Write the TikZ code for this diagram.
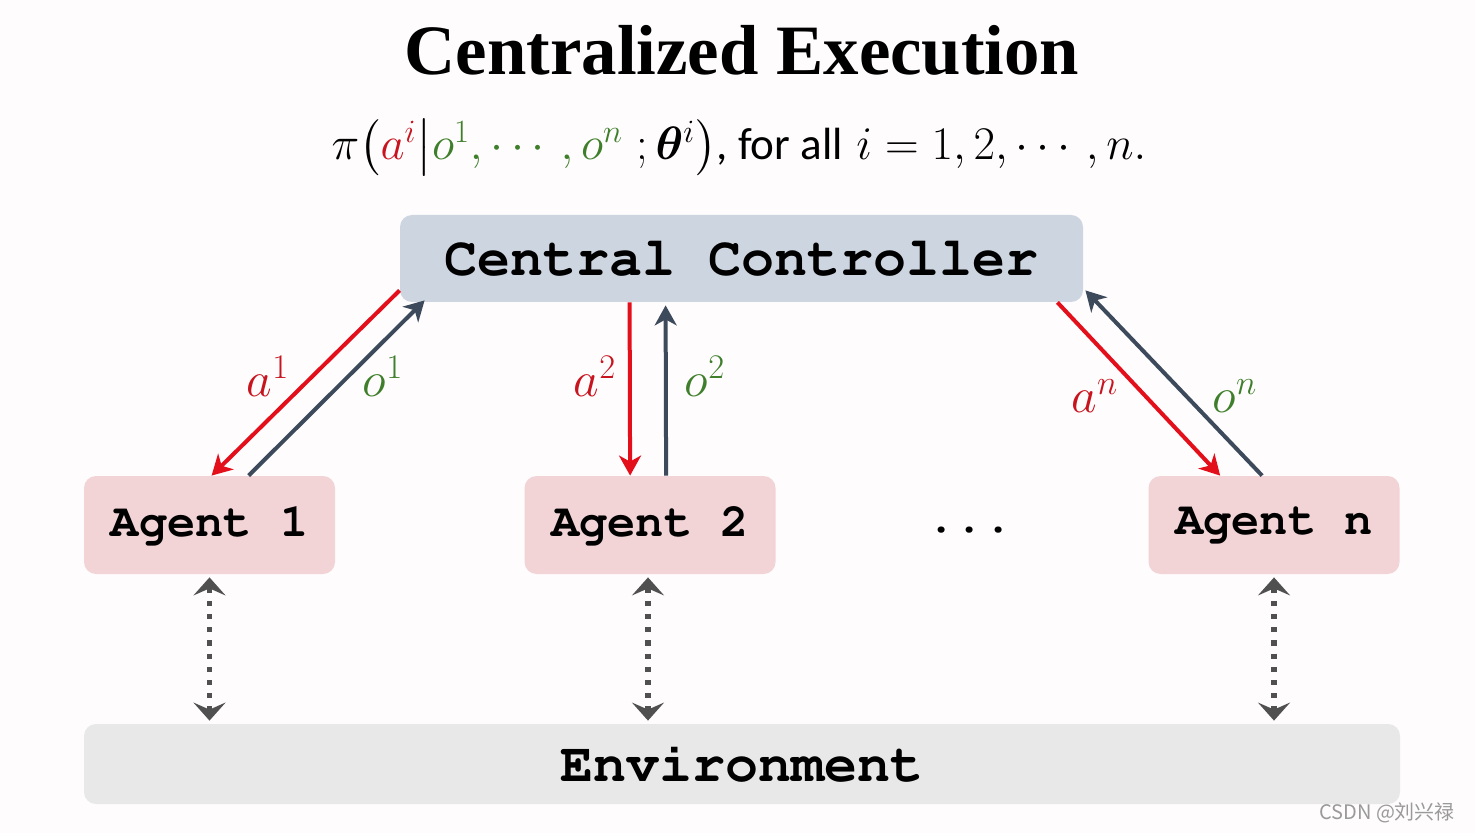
\documentclass[tikz,border=0pt]{standalone}
\usepackage[T1]{fontenc}
\usepackage{fontspec}
\usepackage{amsmath,bm,graphicx}
\usetikzlibrary{arrows.meta,calc}
\newfontfamily\titlefont{Liberation Serif}
\newfontfamily\bodyfont{Carlito}
\newfontfamily\cjkfont{Noto Sans CJK SC}
\newcommand\courierbold{\fontencoding{T1}\fontfamily{pcr}\fontseries{b}\fontshape{n}\selectfont}
\definecolor{bgc}{HTML}{FEFCFD}
\definecolor{ccfill}{HTML}{CDD5E0}
\definecolor{agfill}{HTML}{F2D4D7}
\definecolor{envfill}{HTML}{E8E8E8}
\definecolor{arrred}{HTML}{E3101B}
\definecolor{arrdark}{HTML}{3D4A5C}
\definecolor{lblred}{HTML}{C8141E}
\definecolor{lblgreen}{HTML}{3F7F2B}
\definecolor{dotgray}{HTML}{505050}
\definecolor{wmgray}{HTML}{9A9A9A}
\tikzset{
  boxbase/.style={rounded corners=6pt, draw=none, inner sep=0pt},
  ccbox/.style={boxbase, fill=ccfill, minimum width=341.5pt, minimum height=43.5pt, font=\courierbold\fontsize{27.5}{30}\selectfont},
  agbox/.style={boxbase, fill=agfill, minimum width=125.5pt, minimum height=49pt, font=\courierbold\fontsize{23.5}{26}\selectfont},
  envbox/.style={boxbase, fill=envfill, minimum width=658pt, minimum height=40pt, font=\courierbold\fontsize{27.5}{30}\selectfont},
  actarrow/.style={draw=arrred, line width=2pt, -{Stealth[length=10pt,width=11pt,inset=3pt]}},
  obsarrow/.style={draw=arrdark, line width=2pt, -{Stealth[length=10pt,width=11pt,inset=3pt]}},
  envarrow/.style={draw=dotgray, line width=2.8pt, dash pattern=on 2.6pt off 4pt,
    {Stealth[length=9pt,width=16pt,inset=3.5pt]}-{Stealth[length=9pt,width=16pt,inset=3.5pt]}},
  actlbl/.style={text=lblred, font=\fontsize{24}{27}\selectfont},
  obslbl/.style={text=lblgreen, font=\fontsize{24}{27}\selectfont},
}
\begin{document}
\begin{tikzpicture}[x=0.5pt,y=-0.5pt]
\fill[bgc] (0,0) rectangle (1475,833);
\useasboundingbox (0,0) rectangle (1475,833);

\node[font=\titlefont\bfseries\fontsize{35.4}{40}\selectfont, inner sep=0pt] (title) at (742,50) {Centralized Execution};
\node[font=\fontsize{24}{28}\selectfont, inner sep=0pt] (formula) at (739,148)
  {\scalebox{0.94}{$\pi\!\left(\textcolor{lblred}{a^i}\middle|\textcolor{lblgreen}{o^1,\cdots,o^n}\;;\bm{\theta}^i\right)${\bodyfont, for all} $i=1,2,\cdots,n.$}};

\node[ccbox] (cc) at (741.5,258.5) {Central Controller};
\node[agbox] (ag1) at (209.5,525) {Agent 1};
\node[agbox] (ag2) at (650,525) {Agent 2};
\node[agbox] (agn) at (1274,525) {Agent n};
\node[font=\courierbold\fontsize{23.5}{26}\selectfont] (dots) at (970,529) {...};
\node[envbox] (env) at (742,764) {Environment};

% agent 1
\draw[actarrow] ($(cc.south west)+(0,-12)$) -- ($(ag1.north west)+(128,0)$);
\draw[obsarrow] ($(ag1.north west)+(165,0)$) -- ($(cc.south west)+(25,-2)$);
% agent 2
\draw[actarrow] ($(cc.south west)+(230,0)$) -- ($(ag2.north west)+(106,0)$);
\draw[obsarrow] ($(ag2.north west)+(142,0)$) -- ($(cc.south west)+(266,3)$);
% agent n
\draw[actarrow] ($(cc.south east)+(-26,0)$) -- ($(agn.north west)+(72,0)$);
\draw[obsarrow] ($(agn.north west)+(114,0)$) -- ($(cc.south east)+(2,-12)$);

\node[actlbl] (la1) at (268,376) {$a^1$};
\node[obslbl] (lo1) at (383,376) {$o^1$};
\node[actlbl] (la2) at (595,376) {$a^2$};
\node[obslbl] (lo2) at (705,376) {$o^2$};
\node[actlbl] (lan) at (1095,396) {$a^n$};
\node[obslbl] (lon) at (1235,396) {$o^n$};

% environment links
\draw[envarrow] ($(ag1.south)+(0,3)$) -- ($(env.north -| ag1.south)+(0,-3)$);
\draw[envarrow] ($(ag2.south)+(-2,3)$) -- ($(env.north -| ag2.south)+(-2,-3)$);
\draw[envarrow] ($(agn.south)+(0,3)$) -- ($(env.north -| agn.south)+(0,-3)$);

\node[text=wmgray, font=\cjkfont\fontsize{10}{12}\selectfont, anchor=east] (wm) at (1462,813) {CSDN @刘兴禄};
\end{tikzpicture}
\end{document}
